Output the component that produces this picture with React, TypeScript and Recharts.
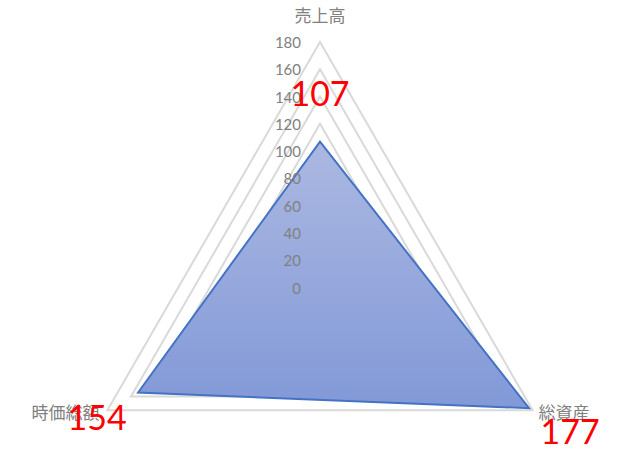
import * as React from "react";
import {
  LabelList,
  PolarAngleAxis,
  PolarGrid,
  PolarRadiusAxis,
  Radar,
  RadarChart,
} from "recharts";

const categories = ["売上高", "総資産", "時価総額"];
const values = [107, 177, 154];
const radiusTicks = [0, 20, 40, 60, 80, 100, 120, 140, 160, 180];

const data = categories.map((name, i) => ({ name, value: values[i] }));

const GREY = "#808080";
const CJK = '"Noto Sans CJK JP", "Noto Sans", sans-serif';
const LATIN = 'Lato, "Open Sans", sans-serif';

// カテゴリ名の位置(目盛り位置からのずらし)
const angleLabelOffset = [
  { dx: 0, dy: -20, anchor: "middle" },
  { dx: -1, dy: -3, anchor: "start" },
  { dx: -1, dy: -3, anchor: "end" },
] as const;

// データラベル(赤)の位置
const valueLabelOffset = [
  { dx: 0, dy: -49 },
  { dx: 41, dy: 22 },
  { dx: -41, dy: 24 },
];

function AngleTick(props: any) {
  const { x, y, payload, index } = props;
  const o = angleLabelOffset[index] ?? angleLabelOffset[0];
  return (
    <text
      x={x + o.dx}
      y={y + o.dy}
      textAnchor={o.anchor}
      dominantBaseline="central"
      fill={GREY}
      fontSize={17}
      fontFamily={CJK}
    >
      {payload.value}
    </text>
  );
}

function RadiusTick(props: any) {
  const { x, y, payload } = props;
  return (
    <text
      x={x - 19}
      y={y}
      textAnchor="end"
      dominantBaseline="central"
      fill={GREY}
      fontSize={15}
      fontFamily={LATIN}
    >
      {payload.value}
    </text>
  );
}

function ValueLabel(props: any) {
  const { x, y, value, index } = props;
  const o = valueLabelOffset[index] ?? { dx: 0, dy: 0 };
  return (
    <text
      x={x + o.dx}
      y={y + o.dy}
      textAnchor="middle"
      dominantBaseline="central"
      fill="#ff0000"
      fontSize={34}
      fontFamily={LATIN}
    >
      {value}
    </text>
  );
}

export default function App() {
  return (
    <div style={{ position: "absolute", left: 0, top: 0, width: 628, height: 456, background: "#fff" }}>
      <RadarChart
        width={628}
        height={456}
        data={data}
        cx={320}
        cy={287.5}
        outerRadius={245.5}
        startAngle={90}
        endAngle={-270}
        margin={{ top: 0, right: 0, bottom: 0, left: 0 }}
      >
        <defs>
          <linearGradient id="fillGrad" x1="0" y1="0" x2="0" y2="1">
            <stop offset="0%" stopColor="#abb8e1" />
            <stop offset="100%" stopColor="#8299d8" />
          </linearGradient>
        </defs>
        <PolarGrid gridType="polygon" radialLines={false} stroke="#d9d9d9" strokeWidth={2} />
        <PolarAngleAxis dataKey="name" tick={AngleTick} tickLine={false} axisLine={false} />
        <Radar
          dataKey="value"
          stroke="#4472c4"
          strokeWidth={2}
          fill="url(#fillGrad)"
          fillOpacity={1}
          isAnimationActive={false}
        >
          <LabelList dataKey="value" content={ValueLabel} />
        </Radar>
        <PolarRadiusAxis
          angle={90}
          domain={[0, 180]}
          ticks={radiusTicks as any}
          tickCount={10}
          tick={RadiusTick}
          axisLine={false}
          tickLine={false}
        />
      </RadarChart>
    </div>
  );
}
